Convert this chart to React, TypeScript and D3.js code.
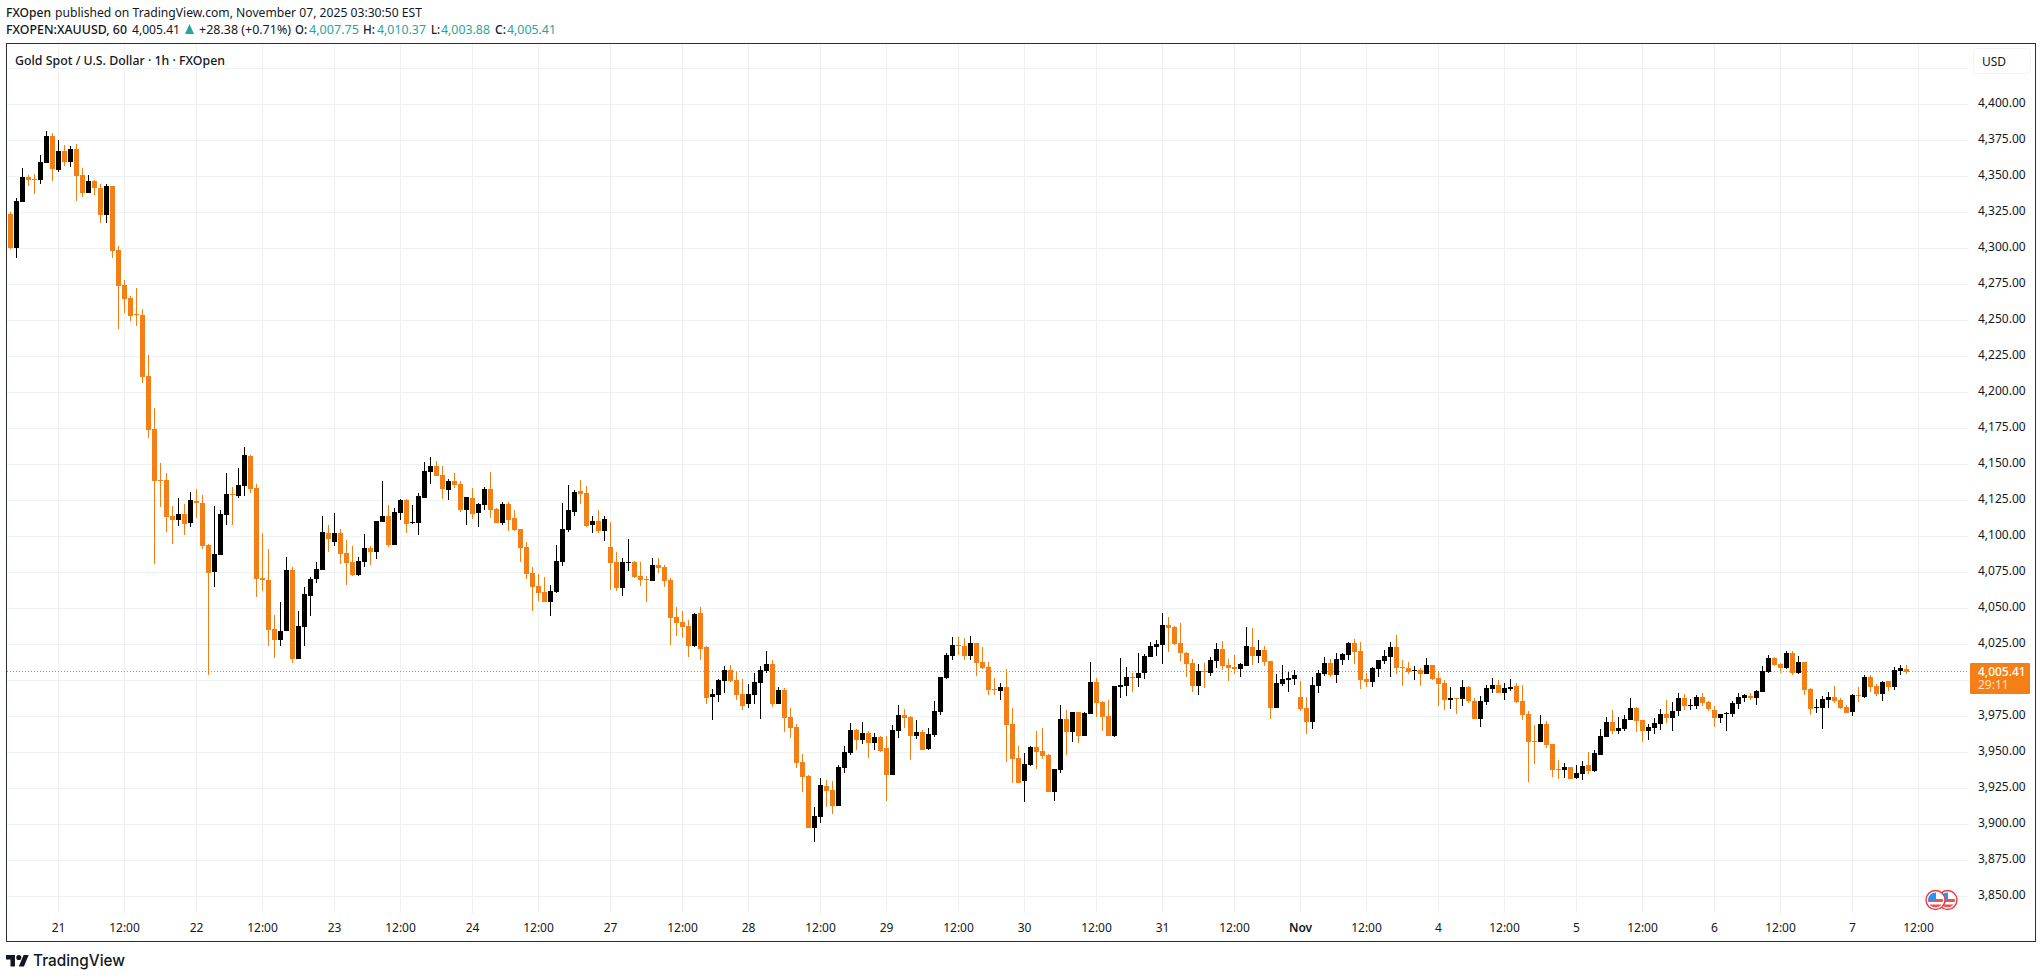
import React, { useEffect, useRef } from "react";
import * as d3 from "d3";

const opens = [
  4323.6,4300.0,4332.0,4349.3,4347.9,4347.2,4359.0,4377.8,4354.2,4367.4,
  4359.7,4368.8,4350.7,4338.2,4346.5,4341.7,4322.9,4343.1,4298.6,4274.3,
  4265.3,4254.2,4253.5,4211.1,4174.3,4138.9,4138.9,4113.9,4111.2,4115.3,
  4109.1,4124.3,4123.0,4093.8,4075.0,4086.8,4114.6,4129.2,4127.8,4134.8,
  4155.6,4133.4,4070.9,4069.5,4035.5,4027.8,4034.1,4076.4,4014.6,4036.8,
  4058.4,4070.2,4076.4,4102.1,4095.9,4102.1,4088.2,4082.0,4073.0,4082.0,
  4091.7,4088.9,4109.8,4113.9,4093.8,4116.0,4125.0,4109.1,4109.1,4126.4,
  4144.5,4148.6,4142.4,4132.0,4138.2,4136.1,4118.1,4126.4,4116.0,4121.5,
  4132.6,4118.7,4109.0,4122.2,4112.5,4104.8,4092.3,4074.3,4065.3,4061.1,
  4054.1,4061.1,4081.9,4104.1,4116.6,4131.2,4129.8,4107.6,4110.4,4103.5,
  4092.3,4081.9,4063.9,4081.2,4081.9,4072.2,4070.1,4068.7,4079.8,4078.5,
  4069.4,4043.7,4040.3,4037.5,4023.6,4046.5,4022.9,3988.2,3989.6,3999.3,
  4007.0,4000.0,3990.3,3983.4,3989.6,3997.9,4006.3,4011.1,3983.4,3993.1,
  3974.3,3967.4,3943.1,3933.4,3897.3,3904.9,3926.4,3923.7,3912.5,3938.9,
  3949.3,3965.3,3958.4,3963.2,3956.3,3960.4,3952.8,3934.1,3964.6,3975.7,
  3974.3,3961.1,3963.9,3952.1,3961.8,3977.8,4001.4,4016.7,4024.3,4023.6,
  4016.7,4025.7,4012.5,4009.1,3993.8,3992.4,3995.2,3969.5,3945.9,3929.9,
  3941.0,3953.5,3950.7,3947.9,3922.2,3937.5,3972.9,3963.9,3977.8,3961.1,
  3976.4,3998.6,3984.7,3975.0,3961.1,3995.2,3995.9,4002.1,4001.4,4004.9,
  4016.0,4023.0,4024.3,4038.2,4036.8,4025.7,4018.8,4011.8,3995.9,4006.3,
  4004.9,4013.2,4021.6,4010.5,4009.0,4007.7,4009.8,4023.0,4016.7,4020.9,
  4013.2,3980.6,3997.2,4000.0,4000.7,3988.2,3980.6,3970.9,3995.9,4004.2,
  4011.8,4003.5,4013.9,4017.4,4025.7,4020.2,4000.7,3998.6,4007.7,4013.2,
  4016.0,4023.0,4009.0,4008.4,4006.3,4007.0,4004.2,4010.5,4001.4,3997.9,
  3986.1,3987.5,3986.8,3995.2,3985.4,3972.9,3984.7,3993.8,3996.6,3991.0,
  3993.8,3995.9,3985.4,3976.4,3957.7,3957.0,3969.5,3955.6,3938.2,3937.5,
  3939.6,3932.0,3934.8,3941.0,3936.8,3947.9,3960.4,3970.9,3964.6,3966.0,
  3972.3,3980.6,3972.3,3964.6,3966.6,3969.4,3976.4,3973.6,3978.5,3987.5,
  3981.9,3981.9,3988.2,3984.7,3979.1,3973.6,3976.4,3976.4,3983.3,3987.5,
  3988.9,3987.5,3991.6,4005.5,4015.3,4011.1,4008.3,4018.7,4004.8,4012.5,
  3993.7,3980.5,3980.5,3986.1,3988.2,3986.1,3981.2,3977.8,3989.6,3988.2,
  4002.1,3995.8,3990.3,3999.3,3995.1,4006.2,4007.75,
];

const highs = [
  4325.0,4334.5,4355.6,4350.7,4351.4,4364.6,4381.3,4379.9,4375.0,4371.5,
  4370.8,4372.2,4355.6,4350.7,4347.2,4344.5,4344.5,4343.1,4301.4,4277.8,
  4266.7,4272.2,4257.6,4225.7,4188.9,4150.7,4143.8,4120.9,4126.4,4122.3,
  4130.6,4132.7,4128.5,4094.5,4120.9,4118.1,4143.8,4134.1,4147.3,4161.8,
  4156.3,4136.2,4102.1,4091.0,4045.2,4054.2,4085.5,4078.5,4048.0,4064.6,
  4071.6,4082.0,4113.9,4107.7,4116.0,4104.9,4097.3,4093.1,4085.5,4101.4,
  4093.1,4110.5,4138.2,4121.5,4119.5,4125.7,4125.7,4121.5,4129.9,4151.4,
  4154.9,4152.1,4148.6,4139.6,4143.8,4138.2,4127.1,4133.3,4122.9,4134.0,
  4144.4,4119.4,4123.6,4123.6,4118.0,4104.8,4095.8,4078.5,4073.6,4071.5,
  4066.0,4093.7,4122.9,4135.4,4131.9,4138.9,4134.7,4113.9,4118.0,4113.9,
  4109.7,4088.9,4084.7,4097.9,4082.6,4081.9,4072.2,4084.7,4084.7,4079.8,
  4070.8,4050.7,4047.9,4041.7,4046.5,4050.7,4023.6,3993.8,4000.7,4009.8,
  4010.4,4006.3,4000.7,3997.3,4004.9,4009.8,4020.2,4013.9,3995.2,3994.5,
  3980.6,3969.5,3948.6,3934.1,3911.8,3932.0,3930.6,3929.9,3941.0,3954.2,
  3970.2,3966.0,3970.9,3964.6,3963.2,3961.1,3961.1,3968.8,3982.7,3979.9,
  3975.0,3972.3,3965.3,3966.7,3985.4,4002.1,4018.8,4029.9,4029.9,4029.2,
  4030.6,4025.7,4022.9,4012.5,4001.4,3997.9,4007.7,3980.6,3954.2,3949.3,
  3954.2,3964.6,3966.7,3948.6,3938.2,3982.6,3979.2,3977.8,3977.8,3977.8,
  4012.5,4001.4,3985.4,3986.1,3995.9,4015.3,4009.0,4004.9,4018.8,4018.1,
  4026.4,4027.8,4046.6,4043.8,4037.5,4039.6,4019.4,4014.6,4011.1,4011.8,
  4016.0,4025.7,4027.1,4014.6,4017.4,4011.8,4036.8,4036.1,4027.8,4023.6,
  4013.2,4004.2,4010.5,4005.6,4007.0,3999.3,3988.2,4002.1,4007.0,4016.0,
  4014.6,4018.8,4018.8,4026.4,4028.5,4026.4,4004.9,4009.0,4013.9,4020.9,
  4026.4,4031.3,4013.9,4012.5,4009.8,4008.4,4015.3,4010.5,4006.3,4000.0,
  3995.2,3987.5,4000.0,3995.9,3987.5,3988.9,3996.6,4001.4,4000.0,3997.9,
  4000.7,3997.9,3996.6,3978.5,3968.8,3975.7,3971.6,3955.6,3944.5,3942.4,
  3939.6,3941.0,3943.8,3950.0,3951.4,3966.0,3974.3,3979.2,3974.3,3975.7,
  3987.5,3981.3,3972.3,3969.4,3973.6,3979.8,3986.1,3984.7,3991.0,3990.3,
  3986.8,3989.6,3991.0,3985.4,3981.9,3976.4,3977.8,3985.4,3991.0,3990.3,
  3991.0,3993.0,4009.7,4017.3,4016.0,4011.8,4020.1,4020.1,4016.6,4012.5,
  3994.4,3986.8,3988.9,3991.6,3995.8,3987.5,3982.6,3990.3,3995.1,4003.5,
  4003.5,3997.2,3999.3,3999.3,4009.0,4010.4,4010.37,
];

const lows = [
  4299.3,4293.1,4332.0,4343.1,4337.5,4344.5,4359.0,4346.5,4352.8,4357.0,
  4356.3,4332.6,4335.4,4338.2,4336.8,4317.4,4317.4,4293.1,4243.8,4254.9,
  4249.3,4245.8,4206.3,4168.1,4080.6,4120.2,4102.8,4094.5,4107.0,4100.7,
  4106.3,4112.5,4091.0,4003.5,4064.6,4086.8,4107.7,4107.7,4126.4,4127.8,
  4129.9,4057.7,4061.8,4023.7,4015.3,4023.7,4034.1,4011.8,4014.6,4023.7,
  4044.5,4067.4,4076.4,4088.9,4093.1,4080.6,4066.0,4072.3,4072.3,4078.5,
  4079.9,4084.1,4109.8,4092.4,4093.8,4111.2,4102.1,4108.4,4100.7,4126.4,
  4136.2,4141.7,4125.7,4125.0,4133.4,4116.7,4107.7,4111.8,4106.2,4118.0,
  4112.5,4109.0,4107.6,4103.5,4103.5,4081.9,4070.1,4047.9,4054.8,4054.1,
  4044.4,4060.4,4079.1,4102.8,4113.9,4122.2,4106.2,4102.1,4102.1,4096.5,
  4062.5,4061.8,4058.3,4075.7,4070.8,4065.3,4054.1,4068.7,4074.3,4064.6,
  4024.3,4030.5,4029.1,4016.0,4022.9,4013.9,3983.3,3972.3,3984.8,3991.0,
  3998.6,3986.1,3979.2,3980.6,3983.4,3972.9,4004.9,3981.3,3983.4,3963.9,
  3959.8,3938.9,3922.3,3897.3,3887.5,3900.7,3911.8,3907.0,3912.5,3935.4,
  3947.9,3951.4,3955.6,3945.9,3951.4,3950.0,3916.0,3934.1,3959.8,3966.7,
  3944.5,3959.1,3951.4,3951.4,3960.4,3975.7,4000.7,4013.9,4017.4,4013.9,
  4013.9,4002.8,4007.7,3989.6,3989.6,3986.1,3943.1,3928.5,3928.5,3915.3,
  3940.3,3938.2,3945.2,3922.2,3916.0,3935.4,3947.9,3957.0,3956.3,3961.1,
  3976.4,3974.3,3964.6,3961.1,3960.4,3987.5,3988.9,3991.7,3995.2,4000.7,
  4016.0,4016.7,4011.1,4019.4,4024.3,4013.2,4002.1,3991.7,3989.6,3994.5,
  4002.8,4008.4,4007.0,3999.3,4004.2,4002.1,4009.8,4010.5,4011.8,4009.8,
  3972.9,3980.6,3995.9,3991.7,3996.6,3978.5,3962.5,3966.0,3991.0,4002.8,
  4002.1,3997.9,4010.5,4013.9,4011.1,3993.8,3995.2,3995.2,4002.1,4011.1,
  4002.1,4004.2,3995.9,4004.2,4000.0,3995.9,4004.2,4000.0,3982.0,3979.2,
  3979.9,3976.4,3982.0,3984.0,3972.9,3967.4,3982.6,3991.0,3991.0,3986.1,
  3992.4,3984.0,3972.3,3929.2,3941.7,3957.0,3952.8,3932.7,3931.3,3932.0,
  3931.3,3931.3,3930.6,3934.8,3936.2,3947.9,3960.4,3962.5,3962.5,3964.6,
  3972.3,3963.9,3957.0,3958.3,3962.5,3965.3,3970.1,3964.6,3975.0,3979.1,
  3979.1,3979.8,3981.9,3978.5,3967.3,3970.1,3964.6,3974.3,3979.8,3984.7,
  3986.1,3982.6,3991.6,4004.8,4009.7,4004.8,4007.6,4003.5,4004.1,3989.6,
  3975.7,3977.1,3966.0,3980.5,3984.0,3979.8,3977.1,3975.0,3984.7,3987.5,
  3991.6,3988.9,3985.4,3992.3,3993.0,4003.5,4003.88,
];

const closes = [
  4300.0,4332.6,4349.3,4347.2,4347.2,4359.7,4377.8,4354.9,4367.4,4359.7,
  4368.8,4350.0,4338.2,4346.5,4341.7,4322.9,4343.1,4297.9,4273.6,4264.6,
  4252.8,4253.5,4210.4,4173.6,4138.2,4138.2,4113.2,4111.2,4115.3,4108.4,
  4125.0,4123.0,4093.1,4074.3,4087.5,4115.3,4129.2,4128.5,4135.5,4156.3,
  4132.7,4070.2,4069.5,4034.8,4027.8,4034.1,4076.4,4014.6,4037.5,4059.8,
  4070.2,4077.1,4102.8,4098.0,4102.1,4087.5,4081.3,4073.0,4082.7,4091.7,
  4088.9,4110.5,4113.9,4093.8,4116.7,4125.0,4108.4,4109.8,4127.8,4145.2,
  4148.6,4141.7,4132.7,4138.2,4135.5,4118.1,4127.1,4115.3,4122.2,4132.6,
  4118.0,4109.0,4122.2,4111.1,4104.1,4091.6,4073.6,4064.6,4060.4,4054.1,
  4061.8,4082.6,4104.8,4118.0,4130.5,4129.1,4106.9,4110.4,4103.5,4111.8,
  4081.2,4063.9,4081.9,4081.9,4071.5,4069.4,4069.4,4079.8,4077.8,4068.7,
  4043.0,4039.6,4036.8,4023.6,4045.8,4021.5,3987.5,3990.3,4000.0,4007.0,
  3999.3,3989.6,3982.0,3990.3,3998.6,4007.0,4011.1,3983.4,3993.1,3973.6,
  3966.7,3942.4,3932.7,3897.3,3905.6,3927.1,3922.9,3912.5,3939.6,3950.0,
  3965.3,3958.4,3963.2,3956.3,3960.4,3950.7,3934.1,3965.3,3975.7,3973.6,
  3961.1,3963.9,3951.4,3962.5,3978.5,4002.1,4017.4,4024.3,4023.6,4016.7,
  4025.7,4011.8,4008.4,3993.1,3993.1,3995.2,3968.8,3945.2,3928.5,3941.7,
  3953.5,3950.0,3947.2,3922.2,3938.2,3972.9,3963.9,3977.8,3961.1,3977.1,
  3998.6,3984.0,3974.3,3961.1,3995.9,3996.6,4002.1,4001.4,4004.9,4016.7,
  4023.6,4025.0,4038.2,4036.1,4025.0,4018.8,4011.1,3995.9,4006.3,4005.6,
  4013.9,4021.6,4009.8,4008.4,4007.7,4011.1,4023.6,4016.7,4020.9,4012.5,
  3980.6,3997.9,4000.7,4001.4,4003.5,3979.9,3970.9,3996.6,4004.9,4011.8,
  4003.5,4014.6,4018.1,4025.7,4019.4,4000.0,3998.6,4008.4,4013.9,4016.7,
  4023.0,4008.4,4008.4,4005.6,4007.0,4004.2,4010.5,4000.7,3997.2,3986.1,
  3987.5,3986.8,3995.2,3985.4,3972.9,3985.4,3994.5,3996.6,3991.0,3994.5,
  3995.2,3984.7,3975.7,3957.0,3957.0,3969.5,3954.9,3937.5,3937.5,3939.6,
  3931.3,3935.4,3940.3,3936.8,3949.3,3961.1,3970.9,3964.6,3966.7,3972.9,
  3980.6,3971.6,3964.6,3967.3,3970.1,3976.4,3973.6,3978.5,3987.5,3981.9,
  3982.6,3988.2,3984.0,3979.8,3973.6,3976.4,3977.1,3984.0,3988.2,3989.6,
  3987.5,3992.3,4006.2,4015.3,4010.4,4008.3,4018.7,4004.8,4012.5,3993.0,
  3979.8,3981.2,3986.8,3988.2,3985.4,3980.5,3977.1,3989.6,3988.9,4002.1,
  3995.1,3990.3,3998.6,3995.1,4006.9,4008.3,4005.41,
];

// bar index of every vertical grid line and the label under it
const timeIndex = [8,19,31,42,54,65,77,88,100,112,123,135,146,158,169,181,192,204,215,226,238,249,261,272,284,295,307,318];
const timeLabels = ["21","12:00","22","12:00","23","12:00","24","12:00","27","12:00","28","12:00","29","12:00","30","12:00","31","12:00","Nov","12:00","4","12:00","5","12:00","6","12:00","7","12:00"];
// 4,000.00 sits behind the last price label in the reference, so it has no tick text
const priceTicks = d3.range(3850, 4401, 25).filter((p) => p !== 4000);
const gridPrices = d3.range(3850, 4426, 25);
const lastPrice = 4005.41;

const ORANGE = "#f57f17";
const TEXT = "#131722";
const TEAL = "#26a69a";
const UI_FONT = "'Noto Sans', sans-serif";

// header row pieces: text, x, width, weight, fill
const headerRow1: [string, number, number, number, string][] = [
  ["FXOpen", 6, 45, 500, TEXT],
  ["published on TradingView.com, November 07, 2025 03:30:50 EST", 55, 367, 400, TEXT],
];
const headerRow2: [string, number, number, number, string][] = [
  ["FXOPEN:XAUUSD, 60", 6, 121, 500, TEXT],
  ["4,005.41", 132, 48, 400, TEXT],
  ["+28.38 (+0.71%)", 199, 92, 400, TEXT],
  ["O:", 295, 12, 500, TEXT],
  ["4,007.75", 309, 50, 400, TEAL],
  ["H:", 363, 12, 500, TEXT],
  ["4,010.37", 377, 49, 400, TEAL],
  ["L:", 431, 9, 500, TEXT],
  ["4,003.88", 441, 49, 400, TEAL],
  ["C:", 495, 11, 500, TEXT],
  ["4,005.41", 507, 49, 400, TEAL],
];

export default function App() {
  const svgRef = useRef<SVGSVGElement>(null);

  useEffect(() => {
    if (!svgRef.current) return;
    const svg = d3.select(svgRef.current);
    svg.selectAll("*").remove();

    const frame = { left: 6, top: 43, right: 2035, bottom: 941 };
    const plotRight = 1969;
    const plotBottom = 913;

    const x = d3.scaleLinear().domain([0, 316]).range([10, 1906]);
    const y = d3.scaleLinear().domain([4400, 3850]).range([104, 896]);

    svg.append("rect").attr("width", 2042).attr("height", 978).attr("fill", "#fff");

    // Grid lines
    const gridH = svg
      .append("g")
      .attr("transform", `translate(${plotRight},0)`)
      .call(d3.axisLeft(y).tickValues(gridPrices).tickSize(plotRight - frame.left).tickFormat(() => ""));
    const gridV = svg
      .append("g")
      .attr("transform", `translate(0,${plotBottom})`)
      .call(d3.axisBottom(x).tickValues(timeIndex).tickSize(frame.top - plotBottom).tickFormat(() => ""));
    [gridH, gridV].forEach((g) => {
      g.select(".domain").remove();
      g.selectAll("line").attr("stroke", "#f0f1f4").attr("shape-rendering", "crispEdges");
    });

    // Last price line
    svg
      .append("line")
      .attr("x1", frame.left + 1)
      .attr("x2", plotRight)
      .attr("y1", Math.round(y(lastPrice)) - 0.5)
      .attr("y2", Math.round(y(lastPrice)) - 0.5)
      .attr("stroke", ORANGE)
      .attr("stroke-dasharray", "1,2");

    // Candles
    const candles = d3.range(opens.length);
    const colour = (i: number) => (closes[i] < opens[i] ? ORANGE : "#000");
    const g = svg.append("g").attr("shape-rendering", "crispEdges");
    g.selectAll(".wick")
      .data(candles)
      .enter()
      .append("rect")
      .attr("x", (i) => x(i))
      .attr("width", 1)
      .attr("y", (i) => Math.round(y(highs[i])))
      .attr("height", (i) => Math.max(1, Math.round(y(lows[i])) - Math.round(y(highs[i]))))
      .attr("fill", colour);
    g.selectAll(".body")
      .data(candles)
      .enter()
      .append("rect")
      .attr("x", (i) => x(i) - 2)
      .attr("width", 5)
      .attr("y", (i) => Math.round(y(Math.max(opens[i], closes[i]))))
      .attr("height", (i) => Math.max(1, Math.round(y(Math.min(opens[i], closes[i]))) - Math.round(y(Math.max(opens[i], closes[i])))))
      .attr("fill", colour);

    // Frame
    svg
      .append("rect")
      .attr("x", frame.left + 0.5)
      .attr("y", frame.top + 0.5)
      .attr("width", frame.right - frame.left)
      .attr("height", frame.bottom - frame.top)
      .attr("fill", "none")
      .attr("stroke", "#2a2e39");

    // Axes
    const priceAxis = svg
      .append("g")
      .attr("transform", "translate(1978,-1)")
      .call(d3.axisRight(y).tickValues(priceTicks).tickSize(0).tickPadding(0).tickFormat(d3.format(",.2f") as any));
    const timeAxis = svg
      .append("g")
      .attr("transform", `translate(0,${plotBottom})`)
      .call(
        d3
          .axisBottom(x)
          .tickValues(timeIndex)
          .tickSize(0)
          .tickPadding(10)
          .tickFormat((_, i) => timeLabels[i])
      );
    [priceAxis, timeAxis].forEach((a) => {
      a.select(".domain").remove();
      a.selectAll("text").attr("font-family", UI_FONT).attr("font-size", 12).attr("fill", TEXT);
    });
    timeAxis.selectAll("text").filter((_, i) => timeLabels[i] === "Nov").attr("font-weight", 600);

    // Currency button
    svg
      .append("rect")
      .attr("x", 1973.5)
      .attr("y", 48.5)
      .attr("width", 57)
      .attr("height", 25)
      .attr("rx", 4)
      .attr("fill", "#fff")
      .attr("stroke", "#f0f3fa");
    svg
      .append("text")
      .attr("x", 1982)
      .attr("y", 65.5)
      .attr("font-family", UI_FONT)
      .attr("font-size", 12)
      .attr("fill", TEXT)
      .text("USD");

    // Last price label
    svg
      .append("rect")
      .attr("x", 1970)
      .attr("y", 663)
      .attr("width", 60)
      .attr("height", 31)
      .attr("rx", 1)
      .attr("fill", ORANGE);
    svg
      .append("text")
      .attr("x", 1978)
      .attr("y", 675.5)
      .attr("font-family", UI_FONT)
      .attr("font-size", 12)
      .attr("font-weight", 500)
      .attr("fill", "#fff")
      .text(d3.format(",.2f")(lastPrice));
    svg
      .append("text")
      .attr("x", 1978)
      .attr("y", 688.5)
      .attr("font-family", UI_FONT)
      .attr("font-size", 12)
      .attr("fill", "#fde0c5")
      .text("29:11");

    // Header text
    const header = (rows: [string, number, number, number, string][], base: number) =>
      rows.forEach(([t, px, w, weight, fill]) => {
        svg
          .append("text")
          .attr("x", px)
          .attr("y", base)
          .attr("textLength", w)
          .attr("lengthAdjust", "spacingAndGlyphs")
          .attr("font-family", UI_FONT)
          .attr("font-size", 13)
          .attr("font-weight", weight)
          .attr("fill", fill)
          .text(t);
      });
    header(headerRow1, 17);
    header(headerRow2, 34);
    svg.append("path").attr("d", "M185 34l4.5-10 4.5 10z").attr("fill", TEAL);

    svg
      .append("text")
      .attr("x", 15)
      .attr("y", 65)
      .attr("textLength", 210)
      .attr("lengthAdjust", "spacingAndGlyphs")
      .attr("font-family", UI_FONT)
      .attr("font-size", 13)
      .attr("font-weight", 500)
      .attr("fill", TEXT)
      .text("Gold Spot / U.S. Dollar · 1h · FXOpen");

    // Event flags
    const flag = (cx: number, id: string) => {
      const f = svg.append("g").attr("transform", `translate(${cx},900)`);
      f.append("clipPath").attr("id", id).append("circle").attr("r", 7.5);
      f.append("circle").attr("r", 9.5).attr("fill", "#fff").attr("stroke", "#f23645").attr("stroke-width", 1.4);
      const inner = f.append("g").attr("clip-path", `url(#${id})`);
      inner.append("rect").attr("x", -8).attr("y", -1).attr("width", 16).attr("height", 3).attr("fill", "#ef5350");
      inner.append("rect").attr("x", -8).attr("y", 4.5).attr("width", 16).attr("height", 3).attr("fill", "#ef5350");
      inner.append("rect").attr("x", -8).attr("y", -8).attr("width", 8.5).attr("height", 8.5).attr("fill", "#2196f3");
    };
    flag(1947.5, "flagBack");
    flag(1935.5, "flagFront");

    // TradingView logo
    const logo = svg.append("g").attr("transform", "translate(6,950.5) scale(0.64)").attr("fill", TEXT);
    logo.append("path").attr("d", "M14 25H7V14H0V7h14v18zM28 25h-8l7.5-18h8L28 25z");
    logo.append("circle").attr("cx", 20).attr("cy", 11).attr("r", 4);
    svg
      .append("text")
      .attr("x", 33)
      .attr("y", 966)
      .attr("textLength", 92)
      .attr("lengthAdjust", "spacingAndGlyphs")
      .attr("font-family", "Inter, sans-serif")
      .attr("font-size", 16.5)
      .attr("font-weight", 500)
      .attr("fill", TEXT)
      .text("TradingView");
  }, []);

  return (
    <svg
      ref={svgRef}
      width={2042}
      height={978}
      viewBox="0 0 2042 978"
      style={{ position: "absolute", left: 0, top: 0, display: "block" }}
    />
  );
}
